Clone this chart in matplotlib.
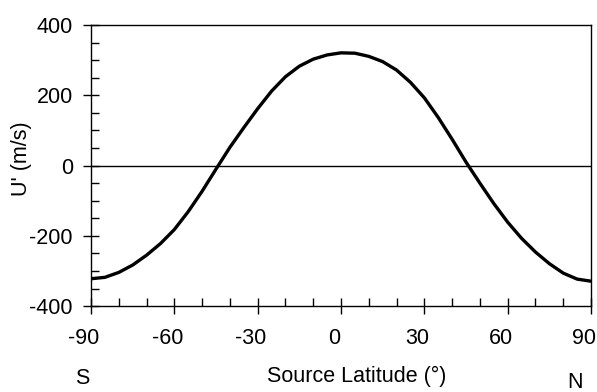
import matplotlib
matplotlib.use("Agg")
import matplotlib.pyplot as plt
import matplotlib.transforms as mtransforms
from matplotlib.ticker import MultipleLocator

plt.rcParams['font.family'] = ['Liberation Sans', 'DejaVu Sans']

latitude = [-90, -85, -80, -75, -70, -65, -60, -55, -50, -45, -40, -35, -30, -25, -20, -15, -10, -5,
            0, 5, 10, 15, 20, 25, 30, 35, 40, 45, 50, 55, 60, 65, 70, 75, 80, 85, 90]
u_prime = [-322, -318, -304, -283, -255, -222, -182, -131, -73, -10, 52, 108, 162, 212, 253, 283, 303, 315,
           321, 320, 311, 296, 272, 237, 193, 137, 75, 10, -50, -108, -161, -207, -246, -279, -306, -323, -329]

x_ticks = [-90, -60, -30, 0, 30, 60, 90]
x_ticklabels = ['-90', '-60', '-30', '0', '30', '60', '90']
y_ticks = [-400, -200, 0, 200, 400]
y_ticklabels = ['-400', '-200', '0', '200', '400']

fig = plt.figure(figsize=(5.97, 3.92), dpi=100)
ax = fig.add_axes([0.1524, 0.219, 0.8376, 0.717])

ax.plot(latitude, u_prime, color='black', lw=2.4, solid_capstyle='round', solid_joinstyle='round')
ax.axhline(0, color='black', lw=1.0)

ax.set_xlim(-90, 90)
ax.set_ylim(-400, 400)
ax.set_xticks(x_ticks)
ax.set_xticklabels(x_ticklabels)
ax.set_yticks(y_ticks)
ax.set_yticklabels(y_ticklabels)
ax.xaxis.set_minor_locator(MultipleLocator(10))
ax.yaxis.set_minor_locator(MultipleLocator(50))

ax.tick_params(axis='both', which='major', direction='inout', length=12, width=1.0,
               labelsize=15.5, top=False, right=False)
ax.tick_params(axis='x', which='major', pad=10)
ax.tick_params(axis='y', which='major', pad=7)
ax.tick_params(axis='both', which='minor', direction='in', length=6, width=1.0,
               top=False, right=False)

shift = mtransforms.ScaledTranslation(-7 / 100, 0, fig.dpi_scale_trans)
for lbl in ax.get_xticklabels():
    lbl.set_transform(lbl.get_transform() + shift)

for s in ax.spines.values():
    s.set_linewidth(1.0)

fig.text(21 / 597, 1 - 159 / 392, "U' (m/s)", rotation=90, ha='center', va='center', fontsize=15.5)
fig.text(0.597, 0.04, 'Source Latitude (°)', ha='center', va='center', fontsize=15.5)
fig.text(0.137, 0.035, 'S', ha='center', va='center', fontsize=15.5)
fig.text(0.963, 0.025, 'N', ha='center', va='center', fontsize=15.5)

fig.savefig('out.png', dpi=100)
